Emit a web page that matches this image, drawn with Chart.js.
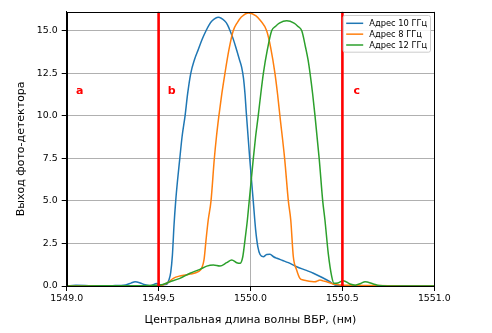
<!DOCTYPE html>
<html>
<head>
<meta charset="utf-8">
<script src="https://cdn.jsdelivr.net/npm/chart.js@4"></script>
<style>
  html, body { margin: 0; padding: 0; background: #ffffff; }
  #wrap { width: 492px; height: 333px; }
</style>
</head>
<body>
<div id="wrap"><canvas id="c" width="492" height="333"></canvas></div>
<script>
// Series labels
const seriesNames = ['Адрес 10 ГГц', 'Адрес 8 ГГц', 'Адрес 12 ГГц'];
const seriesColors = ['#1f77b4', '#ff7f0e', '#2ca02c'];

// Адрес 10 ГГц: wavelength (nm) and detector output
const wl10 = [1549.00, 1549.05, 1549.10, 1549.15, 1549.25, 1549.32, 1549.35, 1549.372, 1549.40, 1549.42,
  1549.453, 1549.49, 1549.51, 1549.53, 1549.544, 1549.556, 1549.566, 1549.575, 1549.584, 1549.593,
  1549.603, 1549.615, 1549.628, 1549.644, 1549.658, 1549.675, 1549.695, 1549.716, 1549.737, 1549.758,
  1549.775, 1549.79, 1549.825, 1549.86, 1549.875, 1549.889, 1549.908, 1549.925, 1549.94, 1549.952,
  1549.962, 1549.97, 1549.977, 1549.996, 1550.015, 1550.028, 1550.04, 1550.052, 1550.07, 1550.088,
  1550.106, 1550.125, 1550.143, 1550.175, 1550.206, 1550.251, 1550.30, 1550.342, 1550.39, 1550.432,
  1550.45, 1550.47, 1550.52, 1550.60, 1550.80, 1551.00];
const sig10 = [0.00, 0.04, 0.03, 0.01, 0.02, 0.06, 0.17, 0.25, 0.18, 0.09,
  0.02, 0.15, 0.06, 0.08, 0.10, 0.35, 0.80, 1.80, 3.60, 4.99,
  6.20, 7.46, 8.80, 10.00, 11.30, 12.50, 13.30, 13.90, 14.50, 15.00,
  15.35, 15.57, 15.79, 15.57, 15.35, 15.00, 14.45, 13.85, 13.30, 12.85,
  12.20, 11.30, 10.20, 7.46, 4.99, 3.30, 2.30, 1.85, 1.72, 1.85,
  1.86, 1.72, 1.63, 1.50, 1.37, 1.13, 0.93, 0.75, 0.50, 0.25,
  0.12, 0.03, 0.02, 0.00, 0.01, 0.00];

// Адрес 8 ГГц
const wl8 = [1549.00, 1549.20, 1549.40, 1549.508, 1549.525, 1549.544, 1549.56, 1549.58, 1549.616, 1549.671,
  1549.716, 1549.734, 1549.747, 1549.758, 1549.77, 1549.785, 1549.803, 1549.815, 1549.828, 1549.844,
  1549.861, 1549.883, 1549.906, 1549.93, 1549.95, 1549.99, 1550.03, 1550.055, 1550.088, 1550.11,
  1550.133, 1550.147, 1550.16, 1550.186, 1550.206, 1550.219, 1550.233, 1550.251, 1550.269, 1550.287,
  1550.306, 1550.33, 1550.351, 1550.365, 1550.378, 1550.395, 1550.415, 1550.45, 1550.487, 1550.55,
  1550.65, 1550.75, 1550.85, 1551.00];
const sig8 = [0.00, 0.02, 0.01, 0.02, 0.07, 0.16, 0.28, 0.45, 0.59, 0.70,
  0.84, 1.04, 1.53, 2.70, 3.88, 4.99, 7.46, 8.80, 10.00, 11.30,
  12.50, 13.90, 15.00, 15.51, 15.81, 16.05, 15.88, 15.59, 15.00, 14.00,
  12.50, 11.30, 10.00, 7.46, 4.99, 3.88, 1.72, 0.94, 0.45, 0.35,
  0.31, 0.27, 0.25, 0.30, 0.35, 0.30, 0.25, 0.12, 0.06, 0.04,
  0.03, 0.02, 0.00, 0.00];

// Адрес 12 ГГц
const wl12 = [1549.00, 1549.20, 1549.40, 1549.48, 1549.508, 1549.562, 1549.616, 1549.671, 1549.725, 1549.762,
  1549.798, 1549.834, 1549.87, 1549.898, 1549.925, 1549.943, 1549.958, 1549.97, 1549.983, 1549.993,
  1550.015, 1550.028, 1550.042, 1550.056, 1550.07, 1550.092, 1550.115, 1550.137, 1550.157, 1550.197,
  1550.237, 1550.257, 1550.279, 1550.30, 1550.313, 1550.324, 1550.338, 1550.351, 1550.374, 1550.393,
  1550.405, 1550.423, 1550.442, 1550.454, 1550.475, 1550.505, 1550.541, 1550.57, 1550.60, 1550.623,
  1550.668, 1550.70, 1550.80, 1551.00];
const sig12 = [0.00, 0.01, 0.02, 0.05, 0.06, 0.25, 0.45, 0.75, 0.98, 1.17,
  1.23, 1.17, 1.37, 1.53, 1.37, 1.33, 1.72, 2.70, 3.88, 4.99,
  7.46, 8.80, 10.00, 11.30, 12.50, 13.90, 15.00, 15.27, 15.45, 15.59,
  15.45, 15.27, 15.00, 14.00, 13.30, 12.50, 11.30, 10.00, 7.46, 4.99,
  3.88, 1.92, 0.55, 0.16, 0.18, 0.31, 0.12, 0.05, 0.15, 0.25,
  0.12, 0.03, 0.00, 0.00];

// Region boundaries and region letters
const boundaryWl = [1549.5, 1550.5];
const regionLetters = ['a', 'b', 'c'];
const regionLetterWl = [1549.05, 1549.55, 1550.56];
const regionLetterY = 11.3;

// Axis ranges and tick labels
const X_MIN = 1549.0, X_MAX = 1551.0, X_STEP = 0.5;
const Y_MIN = 0, Y_MAX = 16.12, Y_STEP = 2.5;
const xTitle = 'Центральная длина волны ВБР, (нм)';
const yTitle = 'Выход фото-детектора';

const FONT = 'DejaVu Sans';

function pts(xs, ys) { return xs.map((x, i) => ({ x: x, y: ys[i] })); }

const curveData = [pts(wl10, sig10), pts(wl8, sig8), pts(wl12, sig12)];

const datasets = [];
// Boundary lines drawn above the curves
boundaryWl.forEach((w) => {
  datasets.push({
    label: '_boundary',
    data: [{ x: w, y: Y_MIN }, { x: w, y: Y_MAX }],
    borderColor: '#ff0000',
    borderWidth: 2.6,
    pointRadius: 0,
    order: 0
  });
});
curveData.forEach((d, i) => {
  datasets.push({
    label: seriesNames[i],
    data: d,
    borderColor: seriesColors[i],
    backgroundColor: seriesColors[i],
    borderWidth: 1.5,
    pointRadius: 0,
    cubicInterpolationMode: 'monotone',
    order: 3 - i
  });
});

const framePlugin = {
  id: 'frame',
  afterDatasetsDraw(chart) {
    const { ctx, chartArea: a, scales } = chart;
    ctx.save();
    // region letters
    ctx.fillStyle = '#ff0000';
    ctx.font = 'bold 11px "' + FONT + '"';
    ctx.textAlign = 'left';
    ctx.textBaseline = 'alphabetic';
    regionLetters.forEach((t, i) => {
      ctx.fillText(t, scales.x.getPixelForValue(regionLetterWl[i]), scales.y.getPixelForValue(regionLetterY));
    });
    // axes frame
    ctx.strokeStyle = '#000000';
    ctx.lineWidth = 1;
    ctx.strokeRect(Math.round(a.left) + 0.5, Math.round(a.top) + 0.5,
      Math.round(a.right) - Math.round(a.left), Math.round(a.bottom) - Math.round(a.top));
    // legend
    const bx = a.right - 91.6, by = a.top + 3.3, bw = 87.3, bh = 36.7;
    ctx.beginPath();
    if (ctx.roundRect) ctx.roundRect(bx + 0.5, by + 0.5, bw, bh, 2); else ctx.rect(bx + 0.5, by + 0.5, bw, bh);
    ctx.fillStyle = 'rgba(255,255,255,0.85)';
    ctx.fill();
    ctx.strokeStyle = '#cccccc';
    ctx.lineWidth = 1;
    ctx.stroke();
    ctx.font = '8.3px "' + FONT + '"';
    ctx.textBaseline = 'middle';
    seriesNames.forEach((name, i) => {
      const yy = by + 8.3 + i * 10.85;
      ctx.strokeStyle = seriesColors[i];
      ctx.lineWidth = 1.5;
      ctx.beginPath();
      ctx.moveTo(bx + 3.5, yy);
      ctx.lineTo(bx + 20.5, yy);
      ctx.stroke();
      ctx.fillStyle = '#000000';
      ctx.fillText(name, bx + 26.6, yy + 0.5);
    });
    ctx.restore();
  }
};

const bgPlugin = {
  id: 'bg',
  beforeDraw(chart) {
    const ctx = chart.ctx;
    ctx.save();
    ctx.fillStyle = '#ffffff';
    ctx.fillRect(0, 0, chart.width, chart.height);
    ctx.restore();
  }
};

new Chart(document.getElementById('c'), {
  type: 'line',
  data: { datasets: datasets },
  options: {
    responsive: false,
    devicePixelRatio: 1,
    animation: false,
    events: [],
    layout: { padding: { left: 0, right: 57.7, top: 11.7, bottom: 0 } },
    plugins: { legend: { display: false }, tooltip: { enabled: false } },
    scales: {
      x: {
        type: 'linear',
        min: X_MIN, max: X_MAX,
        afterFit(s) { s.height = 47; },
        ticks: {
          stepSize: X_STEP,
          includeBounds: false,
          maxRotation: 0,
          autoSkip: false,
          padding: 2,
          color: '#000000',
          font: { family: FONT, size: 9.4 },
          callback: (v) => Number(v).toFixed(1)
        },
        grid: { color: '#b0b0b0', lineWidth: 1, tickColor: '#000000', tickLength: 5, tickWidth: 1 },
        border: { color: '#000000', width: 1 },
        title: { display: true, text: xTitle, color: '#000000', font: { family: FONT, size: 11 }, padding: { top: 0, bottom: 6.5 } }
      },
      y: {
        type: 'linear',
        min: Y_MIN, max: Y_MAX,
        afterFit(s) { s.width = 66.7; },
        ticks: {
          stepSize: Y_STEP,
          includeBounds: false,
          padding: 4,
          color: '#000000',
          font: { family: FONT, size: 9.4 },
          callback: (v) => Number(v).toFixed(1)
        },
        grid: { color: '#b0b0b0', lineWidth: 1, tickColor: '#000000', tickLength: 5, tickWidth: 1 },
        border: { color: '#000000', width: 1 },
        title: { display: true, text: yTitle, color: '#000000', font: { family: FONT, size: 11 }, padding: { top: 14.5, bottom: 0 } }
      }
    }
  },
  plugins: [bgPlugin, framePlugin]
});
</script>
</body>
</html>
